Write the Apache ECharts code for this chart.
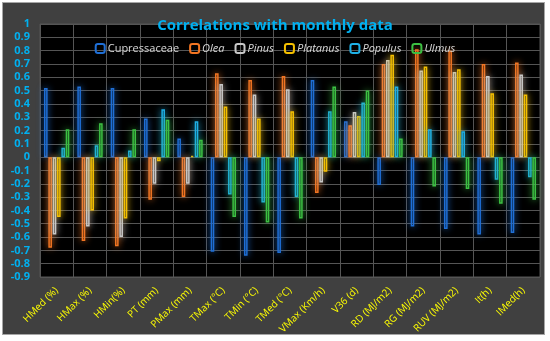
<!DOCTYPE html>
<html>
<head>
<meta charset="utf-8">
<script src="https://cdn.jsdelivr.net/npm/echarts@6/dist/echarts.min.js"></script>
<style>
html,body{margin:0;padding:0;background:#ffffff;}
#frame{position:absolute;left:2px;top:2px;width:541px;height:331px;background:#404040;border:1px solid #a6a6a6;}
#chart{position:absolute;left:0;top:0;width:550px;height:341px;}
</style>
</head>
<body>
<div id="frame"></div>
<div id="chart"></div>
<script>
const categories = ["HMed (%)","HMax (%)","HMin(%)","PT (mm)","PMax (mm)","TMax (°C)","TMin (°C)","TMed (°C)","VMax (Km/h)","V36 (d)","RD (MJ/m2)","RG (MJ/m2)","RUV (MJ/m2)","It(h)","IMed(h)"];
const cupressaceae = [0.52,0.53,0.52,0.29,0.14,-0.71,-0.74,-0.72,0.58,0.27,-0.21,-0.52,-0.54,-0.58,-0.57];
const olea = [-0.68,-0.63,-0.67,-0.32,-0.30,0.63,0.58,0.61,-0.27,0.24,0.70,0.81,0.80,0.70,0.71];
const pinus = [-0.58,-0.52,-0.60,-0.20,-0.20,0.55,0.47,0.51,-0.19,0.34,0.73,0.65,0.64,0.61,0.62];
const platanus = [-0.45,-0.40,-0.46,-0.03,0.01,0.38,0.29,0.345,-0.11,0.31,0.77,0.68,0.66,0.48,0.47];
const populus = [0.07,0.09,0.05,0.36,0.27,-0.28,-0.34,-0.30,0.345,0.41,0.53,0.21,0.195,-0.17,-0.15];
const ulmus = [0.21,0.255,0.21,0.28,0.13,-0.45,-0.49,-0.46,0.53,0.50,0.14,-0.22,-0.24,-0.35,-0.32];
const seriesNames = ["Cupressaceae","Olea","Pinus","Platanus","Populus","Ulmus"];
const seriesData = [cupressaceae, olea, pinus, platanus, populus, ulmus];
const colors = ["#1f6fd6","#f27522","#c8c8c8","#f5c000","#1fb0e6","#3cc043"];

const chart = echarts.init(document.getElementById('chart'), null, {renderer:'canvas'});
const series = seriesNames.map((n,i)=>({
  name:n, type:'bar', data:seriesData[i],
  barCategoryGap:'24%', barGap:'20%',
  itemStyle:{color:'rgba(0,0,0,0)', borderColor:colors[i], borderWidth:1.5, shadowBlur:7, shadowColor:colors[i]},
  emphasis:{disabled:true}
}));
chart.setOption({
  animation:false,
  backgroundColor:'transparent',
  title:{text:'Correlations with monthly data', left:'center', top:13,
    textStyle:{color:'#00b0f0', fontSize:15, fontWeight:'bold', fontFamily:'Open Sans'}},
  legend:{top:38, left:'center', itemWidth:9, itemHeight:9, itemGap:10,
    data:seriesNames.map((n,i)=>({name:n, textStyle:{fontStyle: i===0?'normal':'italic'}})),
    textStyle:{color:'#d9d9d9', fontSize:11, fontFamily:'Open Sans', padding:[0,0,0,-2]}},
  grid:{left:40, right:10, top:24, bottom:64, show:true, backgroundColor:'#000000', borderColor:'#555555', borderWidth:1},
  xAxis:{type:'category', data:categories,
    axisLine:{show:false}, axisTick:{show:false},
    splitLine:{show:true, lineStyle:{color:'#555555', width:1}},
    axisLabel:{interval:0, rotate:45, color:'#ffff00', fontSize:10, fontFamily:'Open Sans', margin:12}},
  yAxis:{type:'value', min:-0.9, max:1, interval:0.1,
    axisLine:{show:false}, axisTick:{show:false},
    splitLine:{show:true, lineStyle:{color:'#555555', width:1}},
    axisLabel:{color:'#00b0f0', fontSize:11, fontWeight:'bold', fontFamily:'Open Sans', margin:10,
      formatter:v=>String(Math.round(v*10)/10)}},
  series:series
});
</script>
</body>
</html>
